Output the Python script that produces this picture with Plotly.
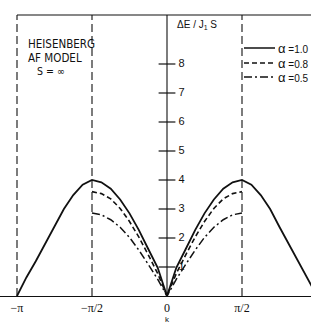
import plotly.graph_objects as go
import math

PI = math.pi
# k grid in steps of pi/16
k_full = [i * PI / 16 for i in range(-16, 17)]
k_half = [i * PI / 16 for i in range(-8, 9)]

# Delta E / J1 S
e_a10 = [0.0, 0.64, 1.20, 1.80, 2.38, 3.00, 3.48, 3.84, 4.00,
         3.92, 3.70, 3.33, 2.85, 2.27, 1.62, 0.98, 0.0,
         0.98, 1.62, 2.27, 2.85, 3.33, 3.70, 3.92, 4.00,
         3.84, 3.48, 3.00, 2.38, 1.80, 1.20, 0.64, 0.0]
e_a08 = [3.60, 3.53, 3.35, 3.02, 2.57, 2.03, 1.42, 0.78, 0.0, 0.78, 1.42, 2.03, 2.57, 3.02, 3.35, 3.53, 3.60]
e_a05 = [2.86, 2.80, 2.63, 2.37, 2.02, 1.58, 1.09, 0.58, 0.0, 0.58, 1.09, 1.58, 2.02, 2.37, 2.63, 2.80, 2.86]

x_tickvals = [-PI, -PI / 2, 0, PI / 2]
x_ticktext = ["−π", "−π/2", "0", "π/2"]
y_ticks = [1, 2, 3, 4, 5, 6, 7, 8]

legend_labels = ["1.0", "0.8", "0.5"]
legend_dash = ["solid", "5px,3px", "8px,3px,2px,3px"]
model_lines = ["HEISENBERG", "AF MODEL", "S = ∞"]

TOP = 9.69
W, H = 311, 323
px_per_half_pi = 75.0
x0_px = 167.0
xmin = (0 - x0_px) / px_per_half_pi * PI / 2
xmax = (W - x0_px) / px_per_half_pi * PI / 2
y_bottom_px = 296.0
px_per_unit = 29.0
ymax = y_bottom_px / px_per_unit

def ypx(p):
    return (y_bottom_px - p) / px_per_unit

ink = "#111111"
fig = go.Figure()
fig.add_trace(go.Scatter(x=k_full, y=e_a10, mode="lines", line=dict(color=ink, width=1.8), showlegend=False))
fig.add_trace(go.Scatter(x=k_half, y=e_a08, mode="lines", line=dict(color=ink, width=1.6, dash=legend_dash[1]), showlegend=False))
fig.add_trace(go.Scatter(x=k_half, y=e_a05, mode="lines", line=dict(color=ink, width=1.5, dash=legend_dash[2]), showlegend=False))

# y axis crossing ticks with labels
fig.add_trace(go.Scatter(x=[0] * len(y_ticks), y=y_ticks, mode="markers+text",
                         marker=dict(symbol="line-ew", size=12, line=dict(color=ink, width=1.2)),
                         text=[f" {v}" for v in y_ticks], textposition="middle right",
                         textfont=dict(family="Liberation Sans", size=11, color=ink),
                         cliponaxis=False, showlegend=False, hoverinfo="skip"))

shapes = []
shapes.append(dict(type="line", xref="x", yref="y", x0=-PI, x1=xmax + 0.1, y0=TOP, y1=TOP, line=dict(color=ink, width=1.2)))
shapes.append(dict(type="line", xref="x", yref="y", x0=-PI, x1=-PI, y0=0, y1=TOP, line=dict(color=ink, width=1.1, dash="8px,4px")))
for xv in [-PI / 2, PI / 2]:
    shapes.append(dict(type="line", xref="x", yref="y", x0=xv, x1=xv, y0=0, y1=TOP, line=dict(color=ink, width=1.1, dash="8px,4px")))
shapes.append(dict(type="line", xref="x", yref="y", x0=0, x1=0, y0=0, y1=TOP, line=dict(color=ink, width=1.1)))

annotations = []
# legend
leg_y_px = [48, 63, 77]
for i, (lab, dsh) in enumerate(zip(legend_labels, legend_dash)):
    yv = ypx(leg_y_px[i])
    shapes.append(dict(type="line", xref="paper", yref="y", x0=244 / W, x1=275 / W, y0=yv, y1=yv,
                       line=dict(color=ink, width=1.5, dash=dsh)))
    annotations.append(dict(xref="paper", yref="y", x=276 / W, y=yv, xanchor="left", yanchor="middle",
                            text=f"<span style='font-size:13px'>α</span> ={lab}",
                            showarrow=False, font=dict(family="Liberation Sans Narrow, Liberation Sans", size=10, color=ink)))

# y label
annotations.append(dict(xref="paper", yref="y", x=175 / W, y=ypx(25), xanchor="left", yanchor="middle",
                        text="ΔE / J<sub>1</sub> S", showarrow=False, font=dict(family="Liberation Sans", size=10, color=ink)))
# model text
model_x = [26, 26, 35]
model_y = [44, 58, 71]
model_size = [11.5, 11.5, 10.5]
for t, mx, my, ms in zip(model_lines, model_x, model_y, model_size):
    annotations.append(dict(xref="paper", yref="y", x=mx / W, y=ypx(my), xanchor="left", yanchor="middle",
                            text=t, showarrow=False,
                            font=dict(family="Liberation Sans Narrow, DejaVu Sans Condensed, sans-serif", size=ms, color=ink)))
# x axis label
annotations.append(dict(xref="x", yref="paper", x=0, y=ypx(319) / ymax, xanchor="center", yanchor="middle",
                        text="k", showarrow=False, font=dict(family="Liberation Sans", size=8, color=ink)))

fig.update_layout(
    width=W, height=H, margin=dict(l=0, r=0, t=0, b=H - int(y_bottom_px), autoexpand=False),
    plot_bgcolor="white", paper_bgcolor="white",
    shapes=shapes, annotations=annotations,
    xaxis=dict(range=[xmin, xmax], showgrid=False, zeroline=False, showline=True, linecolor=ink, linewidth=1.2,
               tickvals=x_tickvals, ticktext=x_ticktext, ticks="", automargin=False,
               tickfont=dict(family="Liberation Serif", size=12, color=ink)),
    yaxis=dict(range=[0, ymax], showgrid=False, zeroline=False, showline=False, showticklabels=False, ticks=""),
)
fig.write_html("out.html", config={"displayModeBar": False}, post_script="document.body.style.margin='0px';")
